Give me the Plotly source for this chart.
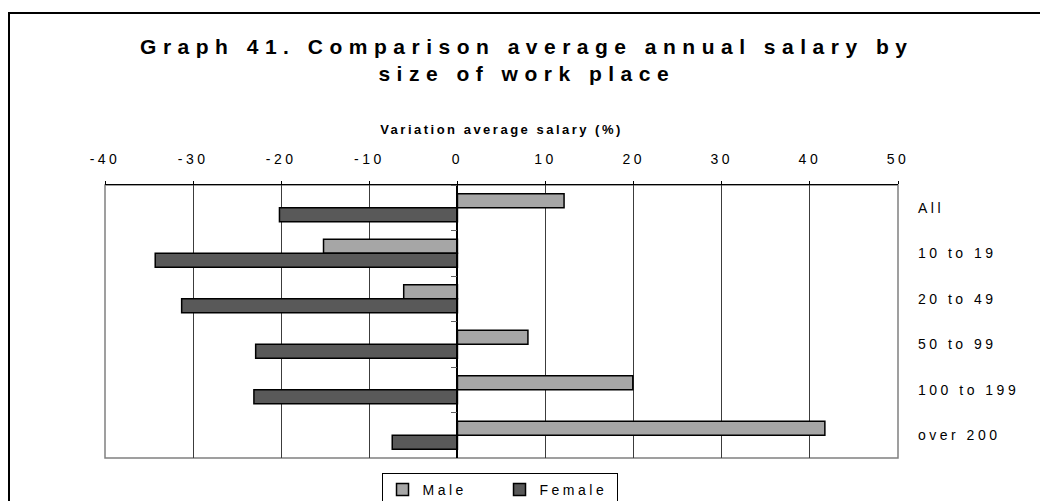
import plotly.graph_objects as go

categories = ["All", "10 to 19", "20 to 49", "50 to 99", "100 to 199", "over 200"]
male = [12.1, -15.2, -6.1, 8.0, 19.9, 41.7]
female = [-20.2, -34.3, -31.3, -22.9, -23.1, -7.4]
x_ticks = [-40, -30, -20, -10, 0, 10, 20, 30, 40, 50]
x_range = [-40, 50]

FONT = "Liberation Sans, Arial, sans-serif"


def sp(text, px):
    return f'<span style="letter-spacing:{px}px">{text}</span>'


# page body has an 8px margin; figure pixel coordinates below are page - 8
W, H = 1048, 501
ML, MT = 97, 177
PW, PH = 793, 273
MR, MB = W - ML - PW, H - MT - PH


def px_to_paper_x(px):
    return (px - ML) / PW


def px_to_paper_y(py):
    return (MT + PH - py) / PH


fig = go.Figure()
fig.add_trace(go.Bar(
    y=categories, x=male, orientation="h", name=sp("Male", 3.5),
    marker=dict(color="#a6a6a6", line=dict(color="#000000", width=1.5)),
))
fig.add_trace(go.Bar(
    y=categories, x=female, orientation="h", name=sp("Female", 3.5),
    marker=dict(color="#595959", line=dict(color="#000000", width=1.5)),
))

zero_pos = (0 - x_range[0]) / (x_range[1] - x_range[0])

annotations = [
    dict(text=sp(c, 3.5), x=1, xref="paper", y=c, yref="y", xanchor="left",
         xshift=18, showarrow=False, font=dict(family=FONT, size=14, color="#000"))
    for c in categories
]

shapes = [
    # outer chart frame
    dict(type="rect", xref="paper", yref="paper",
         x0=px_to_paper_x(1), x1=px_to_paper_x(1080),
         y0=px_to_paper_y(540), y1=px_to_paper_y(5),
         line=dict(color="#000000", width=2), fillcolor="rgba(0,0,0,0)", layer="above"),
    # plot area border
    dict(type="rect", xref="x domain", yref="y domain", x0=0, x1=1, y0=0, y1=1,
         line=dict(color="#808080", width=1.5), fillcolor="rgba(0,0,0,0)", layer="below"),
]

fig.update_layout(
    width=W, height=H,
    margin=dict(l=ML, r=MR, t=MT, b=MB, autoexpand=False),
    paper_bgcolor="white", plot_bgcolor="white",
    font=dict(family=FONT, size=14, color="#000"),
    title=dict(
        text=sp("<b>Graph 41. Comparison average annual salary by<br>size of work place</b>", 6.5),
        x=0.495, xref="container", xanchor="center",
        y=1 - 46 / H, yref="container", yanchor="top",
        font=dict(family=FONT, size=21, color="#000"),
    ),
    barmode="group", bargap=0.38, bargroupgap=0,
    xaxis=dict(
        range=x_range, side="top",
        tickvals=x_ticks, ticktext=[sp(str(v), 3.5) for v in x_ticks],
        tickfont=dict(family=FONT, size=14),
        ticks="outside", ticklen=3, tickcolor="#000",
        ticklabelstandoff=11,
        showgrid=True, gridcolor="#3c3c3c", gridwidth=1,
        showline=True, linecolor="#000", linewidth=1,
        zeroline=False,
        title=dict(text=sp("<b>Variation average salary (%)</b>", 2.5),
                   font=dict(family=FONT, size=13), standoff=13),
    ),
    yaxis=dict(
        categoryorder="array", categoryarray=categories, autorange="reversed",
        anchor="free", position=zero_pos,
        showticklabels=False, showgrid=False, zeroline=False,
        showline=True, linecolor="#000", linewidth=1.5,
        ticks="outside", ticklen=6, tickcolor="#606060", tickson="boundaries",
    ),
    legend=dict(
        orientation="h", x=0.4975, xanchor="center", y=px_to_paper_y(465), yanchor="top",
        bordercolor="#000", borderwidth=1, bgcolor="white",
        font=dict(family=FONT, size=14), traceorder="normal",
        itemwidth=30, entrywidth=72,
    ),
    shapes=shapes,
    annotations=annotations,
    showlegend=True,
)

fig.write_html("out.html")
